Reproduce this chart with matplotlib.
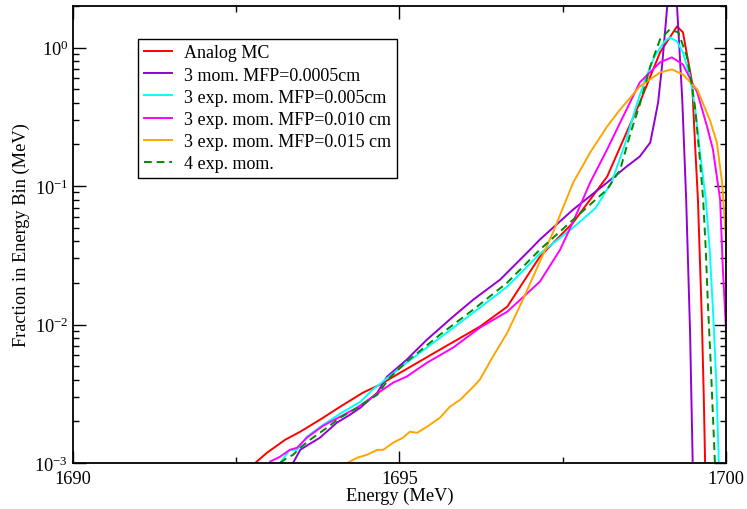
import numpy as np
import matplotlib
matplotlib.use("Agg")
from matplotlib import pyplot as plt
from matplotlib.ticker import LogLocator, FixedLocator, NullFormatter

# energies (MeV) and log10 of the fraction, one pair per curve
analog_e = [1692.79, 1692.97, 1693.25, 1693.48, 1693.78, 1694.09, 1694.44, 1694.70,
            1695.01, 1695.62, 1696.23, 1696.65, 1697.15, 1697.66, 1698.18, 1698.68,
            1698.99, 1699.25, 1699.34, 1699.48, 1699.53, 1699.57, 1699.60, 1699.63,
            1699.66, 1699.68]
analog_y = [-3.0, -2.926, -2.832, -2.774, -2.688, -2.594, -2.492, -2.434,
            -2.348, -2.181, -2.015, -1.871, -1.509, -1.263, -0.931, -0.396,
            -0.034, 0.154, 0.111, -0.251, -0.735, -1.097, -1.53, -1.96,
            -2.53, -3.0]

mom3_e = [1693.37, 1693.48, 1693.60, 1693.78, 1694.04, 1694.24, 1694.40, 1694.66,
          1694.81, 1695.11, 1695.42, 1695.82, 1696.13, 1696.54, 1697.00, 1697.15,
          1697.66, 1698.18, 1698.48, 1698.68, 1698.84, 1698.91, 1698.96, 1699.02,
          1699.10, 1699.17, 1699.25, 1699.33, 1699.39, 1699.45, 1699.49]
mom3_y = [-3.0, -2.905, -2.869, -2.818, -2.709, -2.652, -2.601, -2.492,
          -2.376, -2.254, -2.109, -1.943, -1.820, -1.676, -1.459, -1.386,
          -1.169, -0.974, -0.858, -0.786, -0.685, -0.519, -0.396, -0.135,
          0.299, 0.55, 0.299, -0.374, -1.097, -2.06, -3.0]

exp005_e = [1693.17, 1693.32, 1693.43, 1693.58, 1693.83, 1694.09, 1694.40, 1694.59,
            1695.11, 1695.62, 1696.13, 1696.65, 1697.15, 1697.66, 1698.00, 1698.25,
            1698.45, 1698.62, 1698.76, 1698.91, 1699.06, 1699.14, 1699.25, 1699.34,
            1699.45, 1699.53, 1699.60, 1699.69, 1699.75, 1699.80, 1699.85, 1699.89]
exp005_y = [-3.0, -2.905, -2.905, -2.811, -2.724, -2.644, -2.558, -2.470,
            -2.276, -2.095, -1.914, -1.726, -1.488, -1.299, -1.16, -0.97,
            -0.70, -0.43, -0.23, -0.06, 0.046, 0.074, 0.045, -0.035,
            -0.21, -0.45, -0.75, -1.097, -1.459, -1.893, -2.399, -3.0]

exp010_e = [1693.02, 1693.17, 1693.32, 1693.43, 1693.58, 1693.83, 1694.09, 1694.35,
            1694.59, 1694.90, 1695.11, 1695.42, 1695.82, 1696.23, 1696.65, 1697.15,
            1697.46, 1697.66, 1697.92, 1698.18, 1698.38, 1698.68, 1698.99, 1699.17,
            1699.34, 1699.56, 1699.71, 1699.80, 1699.91, 1699.95, 1700.0, 1700.1]
exp010_y = [-2.99, -2.955, -2.905, -2.890, -2.818, -2.731, -2.666, -2.601,
            -2.521, -2.420, -2.376, -2.276, -2.167, -2.023, -1.907, -1.690,
            -1.459, -1.256, -0.974, -0.735, -0.540, -0.251, -0.106, -0.070,
            -0.121, -0.324, -0.570, -0.736, -1.097, -1.58, -2.04, -3.5]

exp015_e = [1694.20, 1694.35, 1694.50, 1694.66, 1694.75, 1694.90, 1695.05, 1695.16,
            1695.27, 1695.42, 1695.62, 1695.77, 1695.93, 1696.13, 1696.23, 1696.43,
            1696.65, 1696.89, 1697.15, 1697.35, 1697.66, 1697.92, 1698.18, 1698.38,
            1698.68, 1698.99, 1699.17, 1699.34, 1699.56, 1699.75, 1699.86, 1699.94,
            1700.0, 1700.1]
exp015_y = [-3.0, -2.962, -2.941, -2.905, -2.905, -2.854, -2.818, -2.774,
            -2.782, -2.738, -2.673, -2.594, -2.543, -2.449, -2.398, -2.232,
            -2.059, -1.820, -1.545, -1.335, -0.974, -0.757, -0.569, -0.446,
            -0.280, -0.179, -0.157, -0.193, -0.302, -0.519, -0.685, -0.974,
            -1.386, -2.5]

exp4_e = [1693.17, 1693.28, 1693.37, 1693.48, 1693.63, 1693.89, 1694.09, 1694.35,
          1694.66, 1694.85, 1695.11, 1695.62, 1696.13, 1696.65, 1697.15, 1697.66,
          1698.18, 1698.38, 1698.54, 1698.68, 1698.84, 1698.99, 1699.14, 1699.27,
          1699.40, 1699.48, 1699.53, 1699.60, 1699.65, 1699.69, 1699.72, 1699.77,
          1699.83]
exp4_y = [-3.0, -2.962, -2.941, -2.890, -2.832, -2.745, -2.673, -2.601,
          -2.507, -2.384, -2.268, -2.073, -1.892, -1.697, -1.459, -1.242,
          -1.024, -0.880, -0.613, -0.410, -0.135, 0.060, 0.132, 0.110,
          -0.063, -0.280, -0.447, -0.808, -1.097, -1.459, -1.820, -2.326,
          -3.0]

labels = ["Analog MC", "3 mom. MFP=0.0005cm", "3 exp. mom. MFP=0.005cm",
          "3 exp. mom. MFP=0.010 cm", "3 exp. mom. MFP=0.015 cm", "4 exp. mom."]

plt.rcParams["font.family"] = ["Liberation Serif", "DejaVu Serif"]
plt.rcParams["mathtext.fontset"] = "custom"
plt.rcParams["mathtext.rm"] = "Liberation Serif"
plt.rcParams["mathtext.it"] = "Liberation Serif:italic"

fig = plt.figure(figsize=(7.47, 5.10), dpi=100)
ax = fig.add_axes([0.0977, 0.0902, 0.8742, 0.8961])

series = [(analog_e, analog_y, "#ff0000", "-"),
          (mom3_e, mom3_y, "#9400d3", "-"),
          (exp005_e, exp005_y, "#00ffff", "-"),
          (exp010_e, exp010_y, "#ff00ff", "-"),
          (exp015_e, exp015_y, "#ffa500", "-"),
          (exp4_e, exp4_y, "#008b00", (0, (4, 2.5)))]

for (e, ly, c, ls), lab in zip(series, labels):
    ax.plot(e, 10.0 ** np.array(ly), color=c, ls=ls, lw=1.4, label=lab)

ax.set_yscale("log")
ax.set_xlim(1690, 1700)
ax.set_ylim(1e-3, 2.0)

ax.xaxis.set_major_locator(FixedLocator([1690, 1695, 1700]))
ax.xaxis.set_minor_locator(FixedLocator([1692.5, 1697.5]))
ax.yaxis.set_major_locator(LogLocator(base=10, numticks=10))
ax.yaxis.set_minor_locator(LogLocator(base=10, subs=np.arange(2, 10), numticks=10))
ax.yaxis.set_minor_formatter(NullFormatter())

ax.tick_params(which="both", direction="in", top=True, right=True, labelsize=13.2)
ax.tick_params(which="major", length=9, width=1)
ax.tick_params(which="minor", length=4.5, width=1)
ax.tick_params(axis="x", pad=5)
for sp in ax.spines.values():
    sp.set_linewidth(1.3)

ax.set_xlabel("Energy (MeV)", fontsize=13.2, labelpad=0)
ax.set_ylabel("Fraction in Energy Bin (MeV)", fontsize=13.2, labelpad=3)

leg = ax.legend(loc="upper left", bbox_to_anchor=(0.1, 0.928), fontsize=13,
                frameon=True, fancybox=False, edgecolor="black", framealpha=1,
                handlelength=1.55, handletextpad=0.7, labelspacing=0.29,
                borderpad=0.3, borderaxespad=0)
leg.get_frame().set_linewidth(1.0)

fig.savefig("out.png", dpi=100)
